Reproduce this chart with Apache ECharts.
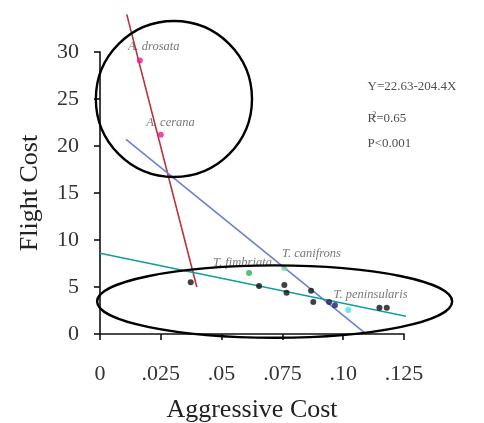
<!DOCTYPE html>
<html>
<head>
<meta charset="utf-8">
<script src="https://cdn.jsdelivr.net/npm/echarts@6/dist/echarts.min.js"></script>
<style>html,body{margin:0;padding:0;background:#fff}#c{width:484px;height:423px}</style>
</head>
<body>
<div id="c"></div>
<script>
// ---- data ----
const xTickLabels = ['0', '.025', '.05', '.075', '.10', '.125'];
const yTickLabels = ['0', '5', '10', '15', '20', '25', '30'];
const blackPts = [[0.0373, 5.5], [0.0654, 5.1], [0.0758, 5.2], [0.0767, 4.4], [0.0868, 4.6], [0.0877, 3.4], [0.1149, 2.8], [0.1179, 2.8]];
const navyPts = [[0.0942, 3.4], [0.0966, 3.05]];
const pinkPts = [[0.0164, 29.1], [0.0250, 21.2]];
const fimbriataPts = [[0.0613, 6.5]];
const canifronsPts = [[0.0758, 7.0]];
const peninsularisPts = [[0.1021, 2.55]];
const redLine = [[0.0110, 34.0], [0.0398, 5.0]];
const blueLine = [[0.0107, 20.7], [0.1090, 0.1]];
const tealLine = [[0.0, 8.6], [0.1268, 1.84]];
const speciesNames = ['A. drosata', 'A. cerana', 'T. fimbriata', 'T. canifrons', 'T. peninsularis'];
const speciesLabelAt = [[0.0115, 30.6], [0.0190, 22.5], [0.0465, 7.6], [0.0748, 8.5], [0.0960, 4.2]];
const statsText = ['Y=22.63-204.4X', 'R{sup|2}=0.65', 'P<0.001'];
const statsAt = [[0.110, 26.3], [0.110, 22.9], [0.110, 20.3]];
// annotation ellipses in data space: [cx, cy, rx, ry]
const circleAnno = [0.0304, 25.0, 0.0321, 8.3];
const ellipseAnno = [0.0718, 3.45, 0.0730, 3.85];

const chart = echarts.init(document.getElementById('c'), null, {renderer: 'canvas'});
const serif = 'Liberation Serif';
function pts(data, color, size) {
  return {type: 'scatter', data: data, symbolSize: size || 6, itemStyle: {color: color}, z: 5};
}
function seg(data, color) {
  return {type: 'line', data: data, symbol: 'none', clip: false, lineStyle: {color: color, width: 1.6}, z: 3};
}
const labelSeries = {
  type: 'scatter', symbolSize: 0, z: 6, clip: false,
  data: speciesLabelAt.map((p, i) => ({value: p, name: speciesNames[i]})),
  label: {show: true, position: 'right', distance: 0, formatter: p => p.name,
    fontFamily: serif, fontStyle: 'italic', fontSize: 12.5, color: '#555'}
};
const statsSeries = {
  type: 'scatter', symbolSize: 0, z: 6, clip: false,
  data: statsAt.map((p, i) => ({value: p, name: statsText[i]})),
  label: {show: true, position: 'right', distance: 0, formatter: p => p.name,
    fontFamily: serif, fontSize: 13, color: '#222',
    rich: {sup: {fontFamily: serif, fontSize: 8, color: '#222', verticalAlign: 'top', padding: [0, 0, 8, -4]}}}
};
chart.setOption({
  animation: false,
  grid: {left: 100, right: 80, top: 52, bottom: 89, outerBoundsMode: 'none', containLabel: false},
  xAxis: {
    type: 'value', min: 0, max: 0.125, interval: 0.025,
    name: 'Aggressive Cost', nameLocation: 'middle', nameGap: 63,
    nameTextStyle: {fontFamily: serif, fontSize: 26, color: '#222'},
    axisLine: {lineStyle: {color: '#111', width: 1.6}},
    axisTick: {show: true, length: 6, lineStyle: {color: '#111', width: 1.6}},
    splitLine: {show: false},
    axisLabel: {margin: 29, fontFamily: serif, fontSize: 22, color: '#333',
      formatter: (v) => xTickLabels[Math.round(v / 0.025)]}
  },
  yAxis: {
    type: 'value', min: 0, max: 30, interval: 5,
    name: 'Flight Cost', nameLocation: 'middle', nameGap: 57,
    nameTextStyle: {fontFamily: serif, fontSize: 26, color: '#222'},
    axisLine: {show: true, lineStyle: {color: '#111', width: 1.6}},
    axisTick: {show: true, length: 6, lineStyle: {color: '#111', width: 1.6}},
    splitLine: {show: false},
    axisLabel: {margin: 21, fontFamily: serif, fontSize: 22, color: '#333',
      formatter: (v) => yTickLabels[Math.round(v / 5)]}
  },
  series: [
    seg(redLine, '#b8333b'),
    seg(blueLine, '#6d7fd6'),
    seg(tealLine, '#0f9c9c'),
    pts(blackPts, '#111'),
    pts(navyPts, '#1c1f5c'),
    pts(pinkPts, '#e61a92'),
    pts(fimbriataPts, '#2fb34c'),
    pts(canifronsPts, '#6fe0a6'),
    pts(peninsularisPts, '#45e2e2'),
    labelSeries,
    statsSeries
  ]
});
function ell(a) {
  const c = chart.convertToPixel({gridIndex: 0}, [a[0], a[1]]);
  const e = chart.convertToPixel({gridIndex: 0}, [a[0] + a[2], a[1] + a[3]]);
  return {type: 'ellipse', shape: {cx: c[0], cy: c[1], rx: Math.abs(e[0] - c[0]), ry: Math.abs(e[1] - c[1])},
    style: {fill: null, stroke: '#000', lineWidth: 2.4}, z: 10};
}
chart.setOption({graphic: [ell(circleAnno), ell(ellipseAnno)]});
</script>
</body>
</html>
